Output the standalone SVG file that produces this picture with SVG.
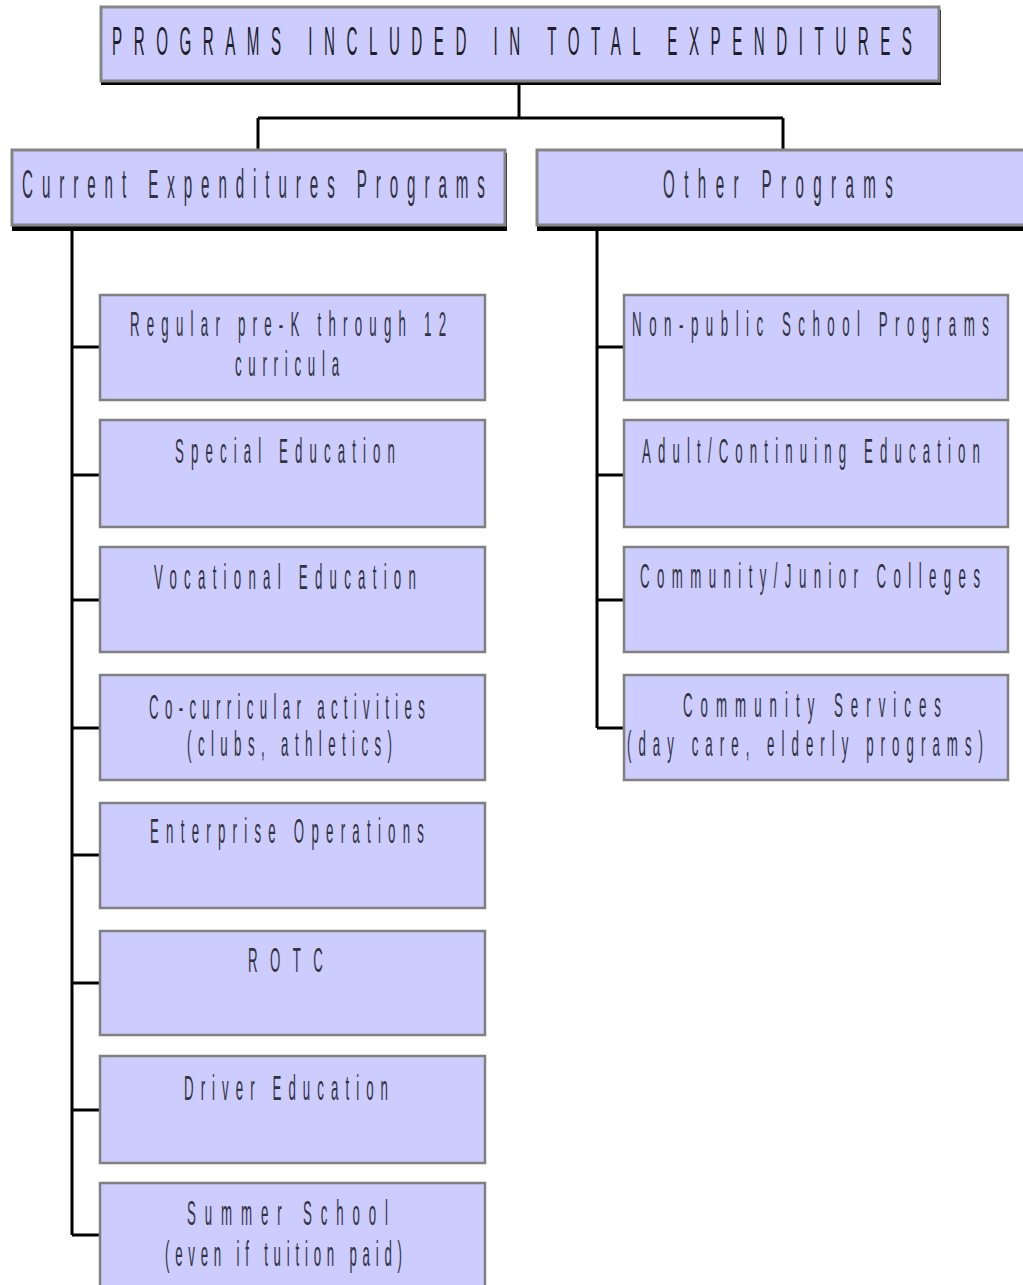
<svg xmlns="http://www.w3.org/2000/svg" width="1023" height="1285" viewBox="0 0 1023 1285">
<style>
  .hdr { fill: #ccccff; stroke: #858585; stroke-width: 3; }
  .shadow { fill: #000000; }
  .box { fill: #ccccff; stroke: #808080; stroke-width: 2.5; }
  .t { font-family: "Liberation Sans", Arial, sans-serif; fill: #33333f; text-anchor: middle; }
  .title { fill: #1e1e28; }
  .big { font-size: 40px; }
  .sm { font-size: 35px; }
  .conn { fill: none; stroke: #000000; stroke-width: 3; }
</style>
<rect width="1023" height="1285" fill="#ffffff"/>

<g id="connectors">
  <path class="conn" d="M519,84 V118 M258,118 H783 M258,118 V150 M783,118 V150"/>
  <path class="conn" d="M72,231 V1235 M72,347 H100 M72,475 H100 M72,600 H100 M72,728 H100 M72,855 H100 M72,983 H100 M72,1110 H100 M72,1235 H100"/>
  <path class="conn" d="M597,231 V728 M597,347 H624 M597,475 H624 M597,600 H624 M597,728 H624"/>
</g>

<g id="root">
  <rect class="shadow" x="101" y="10" width="840" height="75"/>
  <rect class="hdr" x="101" y="7" width="838" height="74"/>
  <text class="t title big" transform="translate(512,55) scale(0.38,1)" textLength="2105" lengthAdjust="spacing">PROGRAMS INCLUDED IN TOTAL EXPENDITURES</text>
</g>

<g id="current">
  <rect class="shadow" x="12" y="153" width="495" height="78"/>
  <rect class="hdr" x="12" y="150" width="493" height="75"/>
  <text class="t big" transform="translate(253.5,198) scale(0.38,1)" textLength="1218" lengthAdjust="spacing">Current Expenditures Programs</text>
</g>

<g id="other">
  <rect class="shadow" x="537" y="153" width="500" height="78"/>
  <rect class="hdr" x="537" y="150" width="500" height="75"/>
  <text class="t big" transform="translate(778,198) scale(0.38,1)" textLength="605" lengthAdjust="spacing">Other Programs</text>
</g>

<g id="regular">
  <rect class="box" x="100" y="295" width="385" height="105"/>
  <text class="t sm" transform="translate(288,336) scale(0.38,1)" textLength="832" lengthAdjust="spacing">Regular pre-K through 12</text>
  <text class="t sm" transform="translate(287,376) scale(0.38,1)" textLength="274" lengthAdjust="spacing">curricula</text>
</g>

<g id="special">
  <rect class="box" x="100" y="420" width="385" height="107"/>
  <text class="t sm" transform="translate(285,463) scale(0.38,1)" textLength="579" lengthAdjust="spacing">Special Education</text>
</g>

<g id="vocational">
  <rect class="box" x="100" y="547" width="385" height="105"/>
  <text class="t sm" transform="translate(285,589) scale(0.38,1)" textLength="689" lengthAdjust="spacing">Vocational Education</text>
</g>

<g id="cocurricular">
  <rect class="box" x="100" y="675" width="385" height="105"/>
  <text class="t sm" transform="translate(287,719) scale(0.38,1)" textLength="726" lengthAdjust="spacing">Co-curricular activities</text>
  <text class="t sm" transform="translate(289.5,756) scale(0.38,1)" textLength="539" lengthAdjust="spacing">(clubs, athletics)</text>
</g>

<g id="enterprise">
  <rect class="box" x="100" y="803" width="385" height="105"/>
  <text class="t sm" transform="translate(287,843) scale(0.38,1)" textLength="721" lengthAdjust="spacing">Enterprise Operations</text>
</g>

<g id="rotc">
  <rect class="box" x="100" y="931" width="385" height="104"/>
  <text class="t sm" transform="translate(285.5,972) scale(0.38,1)" textLength="197" lengthAdjust="spacing">ROTC</text>
</g>

<g id="driver">
  <rect class="box" x="100" y="1056" width="385" height="107"/>
  <text class="t sm" transform="translate(286,1100) scale(0.38,1)" textLength="537" lengthAdjust="spacing">Driver Education</text>
</g>

<g id="summer">
  <rect class="box" x="100" y="1183" width="385" height="106"/>
  <text class="t sm" transform="translate(287.5,1225) scale(0.38,1)" textLength="529" lengthAdjust="spacing">Summer School</text>
  <text class="t sm" transform="translate(283.5,1266) scale(0.38,1)" textLength="624" lengthAdjust="spacing">(even if tuition paid)</text>
</g>

<g id="nonpublic">
  <rect class="box" x="624" y="295" width="384" height="105"/>
  <text class="t sm" transform="translate(810.5,336) scale(0.38,1)" textLength="939" lengthAdjust="spacing">Non-public School Programs</text>
</g>

<g id="adult">
  <rect class="box" x="624" y="420" width="384" height="107"/>
  <text class="t sm" transform="translate(811,463) scale(0.38,1)" textLength="889" lengthAdjust="spacing">Adult/Continuing Education</text>
</g>

<g id="community-colleges">
  <rect class="box" x="624" y="547" width="384" height="105"/>
  <text class="t sm" transform="translate(810,588) scale(0.38,1)" textLength="895" lengthAdjust="spacing">Community/Junior Colleges</text>
</g>

<g id="community-services">
  <rect class="box" x="624" y="675" width="384" height="105"/>
  <text class="t sm" transform="translate(812,717) scale(0.38,1)" textLength="679" lengthAdjust="spacing">Community Services</text>
  <text class="t sm" transform="translate(805,756) scale(0.38,1)" textLength="937" lengthAdjust="spacing">(day care, elderly programs)</text>
</g>
</svg>
